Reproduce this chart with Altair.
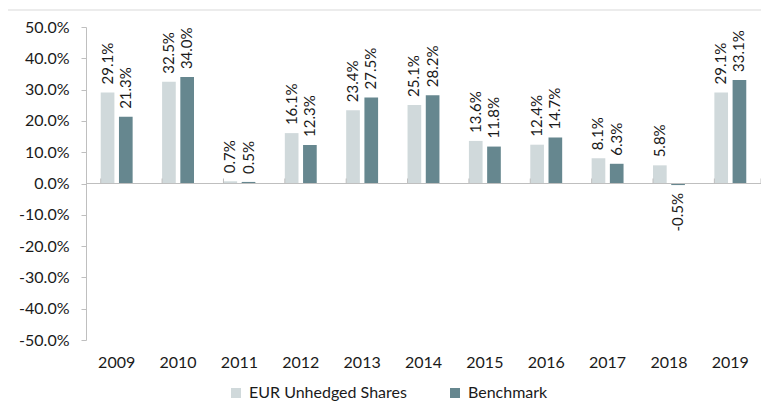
import altair as alt
import pandas as pd

years = ["2009", "2010", "2011", "2012", "2013", "2014", "2015", "2016", "2017", "2018", "2019"]
series_names = ["EUR Unhedged Shares", "Benchmark"]
eur_unhedged = [29.1, 32.5, 0.7, 16.1, 23.4, 25.1, 13.6, 12.4, 8.1, 5.8, 29.1]
benchmark = [21.3, 34.0, 0.5, 12.3, 27.5, 28.2, 11.8, 14.7, 6.3, -0.5, 33.1]
colors = ["#D0D9DB", "#66878F"]
y_ticks = [-0.5, -0.4, -0.3, -0.2, -0.1, 0.0, 0.1, 0.2, 0.3, 0.4, 0.5]

rows = []
for i, yr in enumerate(years):
    rows.append({"year": yr, "series": series_names[0], "value": eur_unhedged[i] / 100})
    rows.append({"year": yr, "series": series_names[1], "value": benchmark[i] / 100})
df = pd.DataFrame(rows)
years_df = pd.DataFrame({"year": years})

W, H = 675, 313
FONT = "Lato"
TXT = "#1A1A1A"
AX = "#BFBFBF"

x_scale = alt.Scale(domain=years, paddingInner=0.48, paddingOuter=0.24)
xo_scale = alt.Scale(domain=series_names, paddingInner=0.25, paddingOuter=0)
y_scale = alt.Scale(domain=[-0.5, 0.5], nice=False, zero=False)

x_axis = alt.Axis(title=None, orient="bottom", domain=False, ticks=False, labelAngle=0,
                  labelFont=FONT, labelFontSize=16, labelColor=TXT, labelPadding=14)
y_axis = alt.Axis(title=None, values=y_ticks, format=".1%", grid=False,
                  labelExpr="replace(datum.label, '\u2212', '-')",
                  domainColor=AX, tickColor=AX, tickSize=5, labelPadding=12,
                  labelFont=FONT, labelFontSize=16, labelColor=TXT)

X = alt.X("year:N", scale=x_scale, sort=years, axis=x_axis)
XO = alt.XOffset("series:N", scale=xo_scale, sort=series_names)
Y = alt.Y("value:Q", scale=y_scale, axis=y_axis)
Y0 = alt.YDatum(0, scale=y_scale, axis=y_axis)

base = alt.Chart(df)

bars = base.mark_bar().encode(
    x=X, xOffset=XO, y=Y,
    color=alt.Color("series:N", sort=series_names,
                    scale=alt.Scale(domain=series_names, range=colors),
                    legend=alt.Legend(title=None, orient="none", legendX=142, legendY=358,
                                      direction="horizontal", symbolType="square", symbolSize=100,
                                      symbolStrokeWidth=0, labelFont=FONT, labelFontSize=16,
                                      labelColor=TXT, columnPadding=40, labelOffset=5)),
)

def label_layer(cond, align, dx):
    return base.transform_filter(cond).transform_calculate(
        lbl="replace(format(datum.value, '.1%'), '\u2212', '-')"
    ).mark_text(
        angle=270, align=align, baseline="middle", dx=dx, font=FONT, fontSize=15, color="#1A1A1A"
    ).encode(
        x=X, xOffset=XO, y=Y,
        text=alt.Text("lbl:N"),
    )

pos_labels = label_layer("datum.value >= 0", "left", 8)
neg_labels = label_layer("datum.value < 0", "right", -8)

zero_line = alt.Chart(years_df.head(1)).mark_rule(color=AX, strokeWidth=1).encode(
    x=alt.value(0), x2=alt.value(W), y=Y0
)
zero_ticks = alt.Chart(years_df).mark_rule(color=AX, strokeWidth=1).encode(
    x=alt.X("year:N", scale=x_scale, sort=years, bandPosition=0, axis=x_axis),
    y=Y0, y2=alt.value(H / 2 - 5)
)
end_tick = alt.Chart(years_df.head(1)).mark_rule(color=AX, strokeWidth=1).encode(
    x=alt.value(W), y=Y0, y2=alt.value(H / 2 - 5)
)

one = pd.DataFrame({"a": [0]})
frame_top = alt.Chart(one).mark_rule(color="#D9D9D9", strokeWidth=1).encode(
    x=alt.value(-80), x2=alt.value(W + 40), y=alt.value(-17)
)
frame_left = alt.Chart(one).mark_rule(color="#D9D9D9", strokeWidth=1).encode(
    x=alt.value(-80), y=alt.value(-17), y2=alt.value(H + 120)
)

chart = alt.layer(frame_top, frame_left, bars, pos_labels, neg_labels, zero_line, zero_ticks, end_tick).properties(
    width=W, height=H,
    autosize=alt.AutoSizeParams(type="none"),
    padding={"left": 78, "top": 19, "right": 0, "bottom": 61},
).configure_view(stroke=None)

chart.save("out.html", embed_options={"renderer": "svg", "actions": False})
